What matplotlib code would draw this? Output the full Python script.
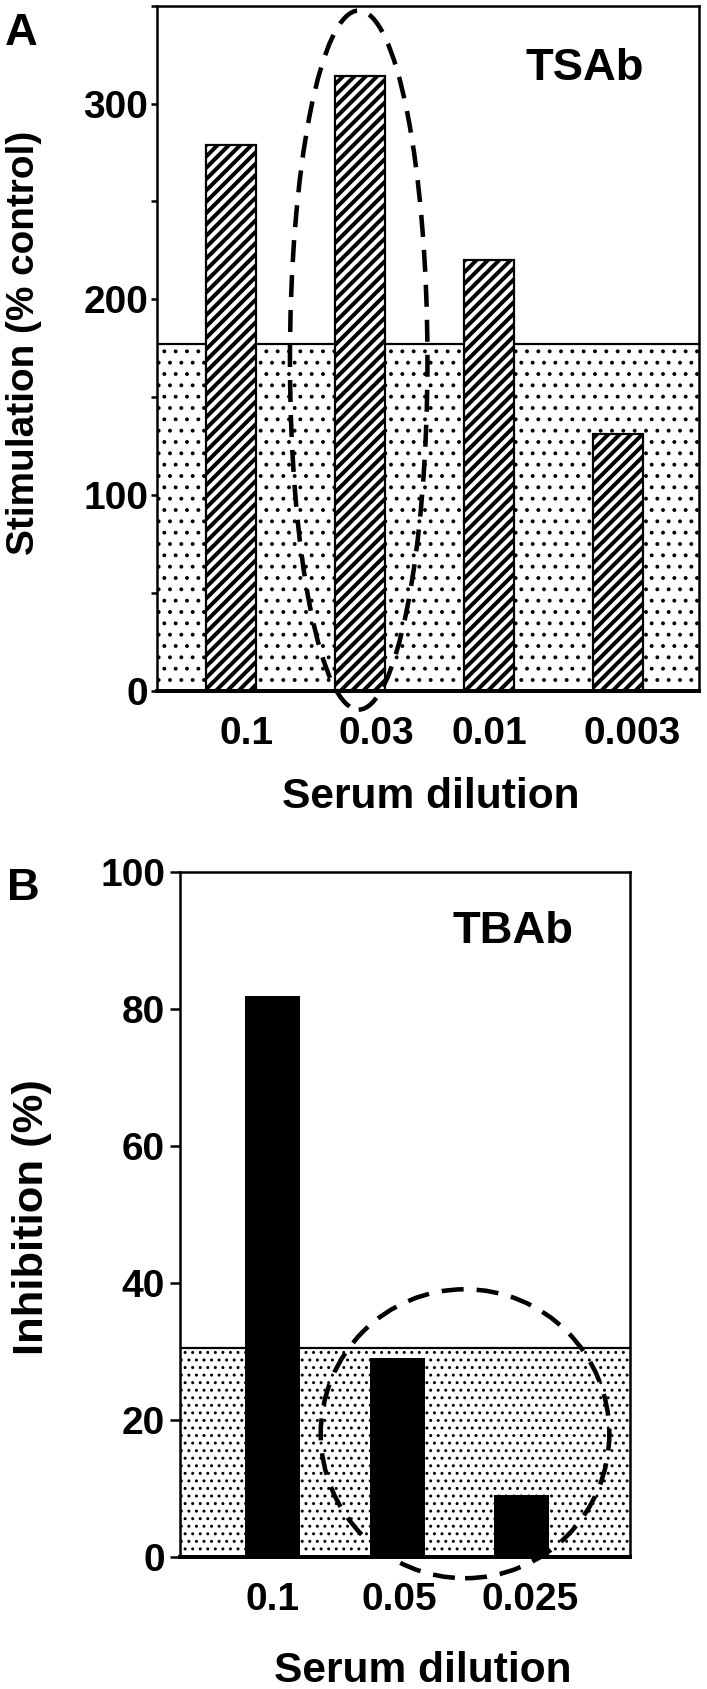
import matplotlib
matplotlib.use('Agg')
import matplotlib.pyplot as plt
from matplotlib.patches import Ellipse
from matplotlib.ticker import MultipleLocator

# ---------------- data ----------------
a_categories = ['0.1', '0.03', '0.01', '0.003']
a_values = [279, 314, 220, 131]
a_threshold = 177
a_ylim = (0, 350)
a_yticks = [0, 100, 200, 300]
a_ylabel = 'Stimulation (% control)'
a_title = 'TSAb'

b_categories = ['0.1', '0.05', '0.025']
b_values = [82, 29, 9]
b_threshold = 30.5
b_ylim = (0, 100)
b_yticks = [0, 20, 40, 60, 80, 100]
b_ylabel = 'Inhibition (%)'
b_title = 'TBAb'

xlabel = 'Serum dilution'

# ---------------- layout ----------------
DPI = 136
W, H = 707, 1689


def pt(px):
    return px * 72.0 / DPI


plt.rcParams['font.family'] = ['Liberation Sans', 'DejaVu Sans']
plt.rcParams['font.weight'] = 'bold'
plt.rcParams['axes.labelweight'] = 'bold'
plt.rcParams['hatch.color'] = 'black'

fig = plt.figure(figsize=((W + 0.01) / DPI, (H + 0.01) / DPI), dpi=DPI)
fig.patch.set_facecolor('white')

axA = fig.add_axes([157 / W, (H - 691) / H, 542 / W, 685.3 / H])
axB = fig.add_axes([180 / W, (H - 1557) / H, 450 / W, 684.7 / H])

ell_lw = 2.4
dash = (0, (pt(22) / ell_lw, pt(13) / ell_lw))

# ---------------- panel A ----------------
xa = list(range(len(a_categories)))
a_label_offsets = [0.12, 0.13, 0.0, 0.11]
with plt.rc_context({'hatch.linewidth': pt(1.6)}):
    axA.axhspan(0, a_threshold, facecolor='white', edgecolor='black',
                hatch='..', linewidth=0, zorder=1)
axA.axhline(a_threshold, color='black', lw=pt(2.2), zorder=1.5)
with plt.rc_context({'hatch.linewidth': pt(4.0)}):
    axA.bar(xa, a_values, width=0.395, facecolor='white', edgecolor='black',
            hatch='////', linewidth=pt(2.2), zorder=2)
axA.add_patch(Ellipse((0.99, 169), 1.066, 357, fill=False, edgecolor='black',
                      lw=ell_lw, linestyle=dash, clip_on=False, zorder=5))
axA.set_xlim(-0.5736, 3.628)
axA.set_ylim(*a_ylim)
axA.set_yticks(a_yticks)
axA.yaxis.set_minor_locator(MultipleLocator(50))
axA.set_xticks([x + o for x, o in zip(xa, a_label_offsets)])
axA.set_xticklabels(a_categories)
axA.tick_params(axis='y', which='both', direction='out', length=pt(6),
                width=pt(2.5), labelsize=20.6, pad=pt(3))
axA.tick_params(axis='x', length=0, pad=pt(25), labelsize=20.6)
axA.set_ylabel(a_ylabel, fontsize=20.5, fontweight='bold', va='center')
axA.yaxis.set_label_coords((24 - 157) / 542, (691 - 342.5) / 685.3)
axA.set_xlabel(xlabel, fontsize=22.5, fontweight='bold', va='top')
axA.xaxis.set_label_coords((430.5 - 157) / 542, (691 - 777) / 685.3)
axA.text((584.5 - 157) / 542, (691 - 80) / 685.3, a_title, transform=axA.transAxes,
         ha='center', va='baseline', fontsize=24, fontweight='bold')
for s in ['left', 'top', 'right']:
    axA.spines[s].set_linewidth(pt(2.5))
axA.spines['bottom'].set_linewidth(pt(4))
for s in axA.spines.values():
    s.set_zorder(4)

# ---------------- panel B ----------------
xb = list(range(len(b_categories)))
b_label_offsets = [0.0, 0.02, 0.07]
with plt.rc_context({'hatch.linewidth': pt(1.5)}):
    axB.axhspan(0, b_threshold, facecolor='white', edgecolor='black',
                hatch='...', linewidth=0, zorder=1)
axB.axhline(b_threshold, color='black', lw=pt(2.2), zorder=1.5)
axB.bar(xb, b_values, width=0.44, color='black', edgecolor='black',
        linewidth=0, zorder=2)
axB.add_patch(Ellipse((1.545, 18), 2.316, 42.2, fill=False, edgecolor='black',
                      lw=ell_lw, linestyle=dash, clip_on=False, zorder=5))
axB.set_xlim(-0.7424, 2.869)
axB.set_ylim(*b_ylim)
axB.set_yticks(b_yticks)
axB.set_xticks([x + o for x, o in zip(xb, b_label_offsets)])
axB.set_xticklabels(b_categories)
axB.tick_params(axis='y', direction='out', length=pt(10), width=pt(2.5),
                labelsize=20.6, pad=pt(5))
axB.tick_params(axis='x', length=0, pad=pt(25), labelsize=20.6)
axB.set_ylabel(b_ylabel, fontsize=23, fontweight='bold', va='center')
axB.yaxis.set_label_coords((31.8 - 180) / 450, (1557 - 1217.6) / 684.7)
axB.set_xlabel(xlabel, fontsize=22.5, fontweight='bold', va='top')
axB.xaxis.set_label_coords((422.5 - 180) / 450, (1557 - 1651) / 684.7)
axB.text((512.5 - 180) / 450, (1557 - 943) / 684.7, b_title, transform=axB.transAxes,
         ha='center', va='baseline', fontsize=24, fontweight='bold')
for s in ['left', 'top', 'right']:
    axB.spines[s].set_linewidth(pt(2.5))
axB.spines['bottom'].set_linewidth(pt(4))
for s in axB.spines.values():
    s.set_zorder(4)

# ---------------- panel letters ----------------
fig.text(5 / W, (H - 45) / H, 'A', fontsize=24, fontweight='bold',
         ha='left', va='baseline')
fig.text(7 / W, (H - 900) / H, 'B', fontsize=24, fontweight='bold',
         ha='left', va='baseline')

fig.savefig('out.png', dpi=DPI, facecolor='white')
